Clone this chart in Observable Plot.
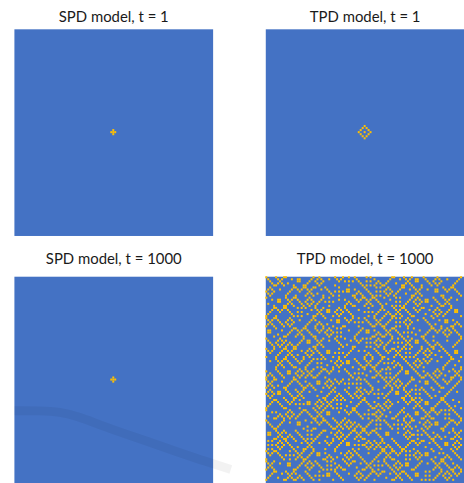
<!DOCTYPE html>
<html>
<head>
<meta charset="utf-8">
<script src="https://cdn.jsdelivr.net/npm/d3@7"></script>
<script src="https://cdn.jsdelivr.net/npm/@observablehq/plot@0.6"></script>
<style>
html, body { margin: 0; padding: 0; background: #fff; overflow: hidden; }
</style>
</head>
<body>
<div id="chart"></div>
<script>
// ---- data ----
const gridSize = 101;
const models = ["SPD", "TPD"];
const times = [1, 1000];
const panelTitles = ["SPD model, t = 1", "TPD model, t = 1", "SPD model, t = 1000", "TPD model, t = 1000"];

// occupied cells (column, row) of each lattice
const spdT1Cells = [[50, 49], [49, 50], [50, 50], [51, 50], [50, 51]];
const tpdT1Cells = [[50, 47], [49, 48], [51, 48], [48, 49], [52, 49], [47, 50], [50, 50], [53, 50],
                    [48, 51], [52, 51], [49, 52], [51, 52], [50, 53]];
const spdT1000Cells = [[50, 49], [49, 50], [50, 50], [51, 50], [50, 51]];
// TPD lattice at t = 1000, one string per row ("o" = occupied); spaces are only for readability
const tpdT1000Rows = [
"o.... o...o o.... ..... ....o ..o.. ..... o...o ..o.. o.... .o.o. ..... ....o o.... o...o ..... o.... ..o.. ..... ....o",
".o... .o.o. ...o. .oo.. ...o. .o.o. ..o.. .o.o. ..... .o... ..... o.... ...o. ...o. .o.o. .oo.. .o... .o.o. ..o.. ...o.",
"..o.. ..o.. ..... .oo.. ..o.. o...o ..... ..o.. o.o.o ..o.. .o.o. ..o.. ..o.. ..... ..o.. .oo.. ..o.. o...o ..... ..o..",
"...o. .o.o. .o... ..... .o... .o.o. ..... ..... ..... ...o. ..... .o.o. .o... .o... .o.o. ..... ...o. .o.o. ..... .o...",
"....o o...o ....o ....o o.... ..o.. ..... o.... ..o.. ....o .o.o. o...o o.... ....o o...o ....o ....o ..o.. ..... o....",
"..o.. ..... ....o o...o o...o o.... o.... ..o.. ..... ..... o.... .o.o. ..o.. ....o o.... o...o ..... ..... o...o o....",
".o.o. ..o.. ...o. .o.o. .o.o. ...o. .o... ..... .oo.. o.... .o... ..... .o.o. ...o. ...o. .o.o. ..o.. .oo.. .o.o. .o...",
"o...o ..... ..o.. ..o.. ..o.. ..... ..o.. o.o.o .oo.. ..o.. ..o.. .o.o. o...o ..o.. ..... ..o.. ..... .oo.. ..o.. ..o..",
".o.o. ..... .o... ..... .o.o. .o... ...o. ..... ..... .o.o. ...o. ..... .o.o. .o... .o... .o.o. ..... ..... ..... ...o.",
"..o.. ..... o.... o.... o...o ....o ....o ..o.. ....o o...o ....o .o.o. ..o.. o.... ....o o...o ..... ....o o.... ....o",
"o.... ..... o...o o.... ..o.. ....o ..o.. ..... ..... o...o o...o o.... o.... .o.o. ....o ..o.. ..... o.... o...o .....",
"...o. .oo.. .o.o. .o... .o.o. ...o. ..... ..o.. o.... .o.o. .o.o. .o... ...o. ..... ...o. .o.o. .oo.. .o... .o.o. ..o..",
"..... .oo.. ..o.. ..o.. o...o ..o.. o.o.o ..... ..o.. ..o.. ..o.. ..o.. ..... .o.o. ..o.. o...o .oo.. ..o.. ..o.. .....",
".o... ..... .o.o. ...o. .o.o. .o... ..... ..... .o.o. ..... .o.o. ...o. .o... ..... .o... .o.o. ..... ...o. .o.o. .....",
"....o ....o o...o ....o ..o.. o.... ..o.. ..... o...o o.... o...o ....o ....o .o.o. o.... ..o.. ....o ....o o...o .....",
"....o o...o o.... .o.o. o.... o...o ..... ..o.. o.... ..... ..o.. ....o ..... o...o o.... o...o o.... ..o.. ....o .....",
"...o. .o.o. .o... ..... ...o. .o.o. .oo.. .o.o. .o... ..o.. ..... ...o. o.... .o.o. .o... .o.o. ...o. .o.o. ...o. .oo..",
"..o.. ..o.. ..o.. .o.o. ..... ..o.. .oo.. o...o ..o.. ..... o.o.o ..o.. ..o.. ..o.. ..o.. ..o.. ..... o...o ..o.. .oo..",
".o... ..... ...o. ..... .o... .o.o. ..... .o.o. ...o. ..... ..... .o... .o.o. .o.o. ...o. ..... .o... .o.o. .o... .....",
"o.... o.... ....o .o.o. ....o o...o ....o ..o.. ....o ..... ..o.. o.... o...o o...o ....o o.... ....o ..o.. o.... ....o",
"o...o o.... ..o.. ..... ....o ..... o.... ..... o...o ..o.. o.... o...o ....o .o.o. ..o.. ..... o.... o.... ..... .....",
".o.o. .o... .o.o. ..o.. ...o. o.... ...o. .oo.. .o.o. ..... .o... .o.o. ...o. ..... .o.o. ..o.. .o... ...o. .oo.. o....",
"..o.. ..o.. o...o ..... ..o.. ..o.. ..... .oo.. ..o.. o.o.o ..o.. ..o.. ..o.. .o.o. o...o ..... ..o.. ..... .oo.. ..o..",
".o.o. ...o. .o.o. ..... .o... .o.o. .o... ..... ..... ..... ...o. .o.o. .o... ..... .o.o. ..... ...o. .o... ..... .o.o.",
"o...o ....o ..o.. ..... o.... o...o ....o ....o o.... ..o.. ....o o...o o.... .o.o. ..o.. ..... ....o ....o ....o o...o",
"..... o.... ....o o...o o.... o...o ..o.. .o.o. ..... ....o ..... ..... o...o o.... ..o.. o.... ....o o...o ..o.. o....",
".oo.. ...o. ...o. .o.o. .o... .o.o. .o.o. ..... ..o.. ...o. .oo.. o.... .o.o. .o... ..... ...o. ...o. .o.o. .o.o. .o...",
".oo.. ..... ..o.. ..o.. ..o.. ..o.. o...o .o.o. ..... ..o.. .oo.. ..o.. ..o.. ..o.. o.o.o ..... ..o.. ..o.. o...o ..o..",
"..... .o... .o... .o.o. ...o. ..... .o.o. ..... ..... .o... ..... .o.o. .o.o. ...o. ..... .o... .o... ..... .o.o. ...o.",
"....o ....o o.... o...o ....o o.... ..o.. .o.o. ..... o.... ....o o...o o...o ....o ..o.. ....o o.... o.... ..o.. ....o",
"o.... ..o.. ..... ....o ..... o...o ..... o.... o.... o...o .o.o. ..o.. ....o ..o.. o...o ..... o.... ..... ..... ....o",
".o... .o.o. o.... ...o. .oo.. .o.o. ..o.. .o... ...o. .o.o. ..... .o.o. ...o. ..... .o.o. .oo.. .o... o.... ..o.. ...o.",
"..o.. o...o ..o.. ..o.. .oo.. ..o.. ..... ..o.. ..... ..o.. .o.o. o...o ..o.. o.o.o ..o.. .oo.. ..o.. ..o.. ..... ..o..",
"...o. .o.o. .o.o. .o... ..... .o.o. ..... ...o. .o... ..... ..... .o.o. .o... ..... .o.o. ..... ...o. .o.o. ..... .o...",
"....o ..o.. o...o o.... ....o o...o ..... ....o ....o o.... .o.o. ..o.. o.... ..o.. o...o ....o ....o o...o ..... o....",
"o...o ....o o...o o.... ..o.. o.... ..... ..o.. ....o ..... ..... o.... o...o o...o .o.o. ....o ..o.. o.... o.... .....",
".o.o. ...o. .o.o. ...o. .o.o. .o... .oo.. ..... ...o. ..o.. o.... .o... .o.o. .o.o. ..... ...o. .o.o. ...o. .o... .oo..",
"..o.. ..o.. ..o.. ..... o...o ..o.. .oo.. o.o.o ..o.. ..... ..o.. ..o.. ..o.. ..o.. .o.o. ..o.. o...o ..... ..o.. .oo..",
"..... .o... .o.o. .o... .o.o. ...o. ..... ..... .o... ..... .o.o. ...o. ..... .o.o. ..... .o... .o.o. .o... ...o. .....",
"o.... o.... o...o ....o ..o.. ....o ....o ..o.. o.... ..... o...o ....o o.... o...o .o.o. o.... ..o.. ....o ....o ....o",
"..... o...o o.... o...o ....o .o.o. o.... ..o.. ..... o.... o...o ....o ..o.. ..... o.... ..o.. o...o ..... ....o o....",
"..o.. .o.o. .o... .o.o. ...o. ..... ...o. .o.o. .oo.. .o... .o.o. ...o. ..... o.... .o... .o.o. .o.o. ..o.. ...o. ...o.",
"..... ..o.. ..o.. ..o.. ..o.. .o.o. ..... o...o .oo.. ..o.. ..o.. ..o.. o.o.o ..o.. ..o.. o...o ..o.. ..... ..o.. .....",
"..... .o.o. ...o. ..... .o... ..... .o... .o.o. ..... ...o. .o.o. .o... ..... .o.o. ...o. .o.o. ..... ..... .o... .o...",
"..... o...o ....o o.... o.... .o.o. ....o ..o.. ....o ....o o...o o.... ..o.. o...o ....o ..o.. o.... ..... o.... ....o",
"..... o.... ..... ..o.. o...o ....o o...o ..... o.... ..o.. o.... o...o .o.o. ....o ..... o.... ..... ..o.. o.... o...o",
"o.... .o... .oo.. .o.o. .o.o. ...o. .o.o. ..o.. .o... ..... ...o. .o.o. ..... ...o. .oo.. .o... o.... .o.o. ...o. .o.o.",
"..o.. ..o.. .oo.. o...o ..o.. ..o.. ..o.. ..... ..o.. o.o.o ..... ..o.. .o.o. ..o.. .oo.. ..o.. ..o.. o...o ..... ..o..",
".o.o. ...o. ..... .o.o. .o.o. .o... ..... ..... ...o. ..... .o... .o.o. ..... .o... ..... ...o. .o.o. .o.o. .o... .o.o.",
"o...o ....o ....o ..o.. o...o o.... o.... ..... ....o ..o.. ....o o...o .o.o. o.... ....o ....o o...o ..o.. ....o o...o",
"o...o o.... ....o o.... ..... ..... ..o.. o...o ..o.. .o.o. o.... ..... o...o ..o.. ....o o.... ..... o.... o...o ....o",
".o.o. ...o. ...o. .o... o.... .oo.. .o.o. .o.o. ..... ..... .o... ..o.. .o.o. .o.o. ...o. ...o. .oo.. .o... .o.o. ...o.",
"..o.. ..... ..o.. ..o.. ..o.. .oo.. o...o ..o.. o.o.o .o.o. ..o.. ..... ..o.. o...o ..o.. ..... .oo.. ..o.. ..o.. ..o..",
".o.o. .o... .o... ...o. .o.o. ..... .o.o. ..... ..... ..... ...o. ..... .o.o. .o.o. .o... .o... ..... ...o. ..... .o...",
"o...o ....o o.... ....o o...o ....o ..o.. o.... ..o.. .o.o. ....o ..... o...o ..o.. o.... ....o ....o ....o o.... o....",
"..o.. ..... o.... o...o ..... o.... ....o ..... o.... ..o.. o...o ..o.. ....o ..... o...o .o.o. o.... o.... ....o .....",
".o.o. .oo.. .o... .o.o. ..o.. ...o. ...o. o.... .o... .o.o. .o.o. ..... ...o. .oo.. .o.o. ..... .o... ...o. ...o. ..o..",
"o...o .oo.. ..o.. ..o.. ..... ..... ..o.. ..o.. ..o.. o...o ..o.. o.o.o ..o.. .oo.. ..o.. .o.o. ..o.. ..... ..o.. .....",
".o.o. ..... ...o. .o.o. ..... .o... .o... .o.o. ...o. .o.o. ..... ..... .o... ..... .o.o. ..... ...o. .o... .o... .....",
"..o.. ....o ....o o...o ..... ....o o.... o...o ....o ..o.. o.... ..o.. o.... ....o o...o .o.o. ....o ....o o.... .....",
"....o o.... o...o ..o.. ..... ..o.. o...o .o.o. o.... ....o o.... ..... ..o.. ..... o...o o...o ..... ....o o.... o....",
"...o. .o... .o.o. ..... .oo.. .o.o. .o.o. ..... ...o. ...o. .o... o.... .o.o. ..o.. .o.o. .o.o. .oo.. ...o. .o... ...o.",
"..o.. ..o.. ..o.. o.o.o .oo.. o...o ..o.. .o.o. ..... ..o.. ..o.. ..o.. o...o ..... ..o.. ..o.. .oo.. ..o.. ..o.. .....",
".o... ...o. ..... ..... ..... .o.o. .o.o. ..... .o... .o... ...o. .o.o. .o.o. ..... ..... .o.o. ..... .o... ...o. .o...",
"o.... ....o o.... ..o.. ....o ..o.. o...o .o.o. ....o o.... ....o o...o ..o.. ..... o.... o...o ....o o.... ....o ....o",
"o.... ..... ..o.. ....o o.... o...o ..... ..... o...o o.... ..o.. ..o.. o.... ....o ..... ..... o...o o...o .o.o. o....",
"...o. o.... .o.o. ...o. .o... .o.o. .oo.. ..o.. .o.o. .o... ..... .o.o. ...o. ...o. o.... .oo.. .o.o. .o.o. ..... .o...",
"..... ..o.. o...o ..o.. ..o.. ..o.. .oo.. ..... ..o.. ..o.. o.o.o o...o ..... ..o.. ..o.. .oo.. ..o.. ..o.. .o.o. ..o..",
".o... .o.o. .o.o. .o... ...o. .o.o. ..... ..... ..... ...o. ..... .o.o. .o... .o... .o.o. ..... .o.o. ..... ..... ...o.",
"....o o...o ..o.. o.... ....o o...o ....o ..... o.... ....o ..o.. ..o.. ....o o.... o...o ....o o...o o.... .o.o. ....o",
"o.... ....o ..... ..... o.... o...o o.... o...o ..o.. ..... ....o .o.o. o.... ..o.. o...o o.... ..o.. ..... ....o o...o",
".o... ...o. ..o.. .oo.. ...o. .o.o. .o... .o.o. .o.o. o.... ...o. ..... .o... ..... .o.o. ...o. .o.o. .oo.. ...o. .o.o.",
"..o.. ..o.. ..... .oo.. ..... ..o.. ..o.. ..o.. o...o ..o.. ..o.. .o.o. ..o.. o.o.o ..o.. ..... o...o .oo.. ..o.. ..o..",
"...o. .o... ..... ..... .o... ..... ...o. .o.o. .o.o. .o.o. .o... ..... ...o. ..... .o.o. .o... .o.o. ..... .o... .....",
"....o o.... ..... ....o ....o o.... ....o o...o ..o.. o...o o.... .o.o. ....o ..o.. o...o ....o ..o.. ....o o.... o....",
"..... o...o ..... o.... .o.o. ....o o.... ..o.. ....o o...o o...o o.... ..... ..... ..o.. ..o.. o.... ..... o.... o...o",
".oo.. .o.o. o.... .o... ..... ...o. ...o. .o.o. ...o. .o.o. .o.o. .o... .oo.. ..o.. .o.o. ..... .o... o.... ...o. .o.o.",
".oo.. ..o.. ..o.. ..o.. .o.o. ..o.. ..... o...o ..o.. ..o.. ..o.. ..o.. .oo.. ..... o...o o.o.o ..o.. ..o.. ..... ..o..",
"..... .o.o. .o.o. ...o. ..... .o... .o... .o.o. .o... .o.o. ..... ...o. ..... ..... .o.o. ..... ...o. .o.o. .o... .o.o.",
"....o o...o o...o ....o .o.o. o.... ....o ..o.. o.... o...o o.... ....o ....o ..... ..o.. ..o.. ....o o...o ....o o...o",
".o.o. ..o.. o.... o.... o...o ..... o...o ....o ..... ..o.. ..o.. o...o ..... o.... ....o o...o o.... o.... ..... ..o..",
"..... .o.o. .o... ...o. .o.o. ..o.. .o.o. ...o. .oo.. ..... .o.o. .o.o. o.... .o... ...o. .o.o. ...o. .o... .oo.. .o.o.",
".o.o. o...o ..o.. ..... ..o.. ..... ..o.. ..o.. .oo.. o.o.o o...o ..o.. ..o.. ..o.. ..o.. ..o.. ..... ..o.. .oo.. o...o",
"..... .o.o. ...o. .o... .o.o. ..... ..... .o... ..... ..... .o.o. .o.o. .o.o. ...o. .o... ..... .o... ...o. ..... .o.o.",
".o.o. ..o.. ....o ....o o...o ..... o.... o.... ....o ..o.. ..o.. o...o o...o ....o o.... o.... ....o ....o ....o ..o..",
"o...o o.... ..o.. o...o ....o ..... ..... o.... ..o.. o.... ..... ....o o...o o...o .o.o. ..o.. ..... o.... ..... o....",
".o.o. .o... ..... .o.o. ...o. .oo.. o.... ...o. .o.o. .o... ..o.. ...o. .o.o. .o.o. ..... .o.o. .oo.. ...o. o.... .o...",
"..o.. ..o.. o.o.o ..o.. ..o.. .oo.. ..o.. ..... o...o ..o.. ..... ..o.. ..o.. ..o.. .o.o. o...o .oo.. ..... ..o.. ..o..",
"..... ...o. ..... .o.o. .o... ..... .o.o. .o... .o.o. ...o. ..... .o... .o.o. ..... ..... .o.o. ..... .o... .o.o. ...o.",
"o.... ....o ..o.. o...o o.... ....o o...o ....o ..o.. ....o ..... o.... o...o o.... .o.o. ..o.. ....o ....o o...o ....o",
"o...o ..... ..... ....o ..o.. o.... .o.o. ..... o...o o.... o...o ..o.. o.... ..o.. ..... ....o ..... o...o o.... .....",
".o.o. ..o.. .oo.. ...o. .o.o. .o... ..... o.... .o.o. ...o. .o.o. ..... .o... .o.o. .oo.. ...o. ..o.. .o.o. .o... o....",
"..o.. ..... .oo.. ..o.. o...o ..o.. .o.o. ..o.. ..o.. ..... ..o.. o.o.o ..o.. o...o .oo.. ..o.. ..... ..o.. ..o.. ..o..",
".o.o. ..... ..... .o... .o.o. ...o. ..... .o.o. ..... .o... .o.o. ..... ...o. .o.o. ..... .o... ..... .o.o. ...o. .o.o.",
"o...o ..... ....o o.... ..o.. ....o .o.o. o...o o.... ....o o...o ..o.. ....o ..o.. ....o o.... ..... o...o ....o o...o",
"....o o.... o...o ..... o.... ..o.. ..... o.... ..... ..o.. ....o o...o o.... o...o o.... ..... .o.o. ....o ..o.. o...o",
"...o. ...o. .o.o. o.... .o... ..... .oo.. .o... ..o.. .o.o. ...o. .o.o. ...o. .o.o. .o... .oo.. ..... ...o. .o.o. .o.o.",
"..o.. ..... ..o.. ..o.. ..o.. o.o.o .oo.. ..o.. ..... o...o ..o.. ..o.. ..... ..o.. ..o.. .oo.. .o.o. ..o.. o...o ..o..",
".o... .o... .o.o. .o.o. ...o. ..... ..... ...o. ..... .o.o. .o... ..... .o... .o.o. ...o. ..... ..... .o... .o.o. .....",
"o.... ....o o...o o...o ....o ..o.. ....o ....o ..... ..o.. o.... o.... ....o o...o ....o ....o .o.o. o.... ..o.. o...."
];

// faint watermark band crossing the lower-left panel (lattice units)
const watermarkX = [0, 13, 23, 33, 43, 56, 69, 81, 94, 110];
const watermarkY = [65.5, 65.5, 66, 68.5, 72.3, 76.7, 81, 85, 89.3, 94.2];

// ---- build tables ----
const panels = [];
times.forEach((t, i) => models.forEach((m, j) => panels.push({model: m, t, title: panelTitles[i * 2 + j]})));

const cells = [];
function addCells(model, t, list) { for (const [x, y] of list) cells.push({model, t, x, y}); }
addCells("SPD", 1, spdT1Cells);
addCells("TPD", 1, tpdT1Cells);
addCells("SPD", 1000, spdT1000Cells);
tpdT1000Rows.forEach((raw, y) => {
  const row = raw.replace(/\s+/g, "");
  for (let x = 0; x < row.length; x++) if (row[x] === "o") cells.push({model: "TPD", t: 1000, x, y});
});
const watermark = watermarkX.map((x, i) => ({model: "SPD", t: 1000, x, y: watermarkY[i]}));

const chart = Plot.plot({
  width: 467,
  height: 486,
  marginLeft: 14,
  marginRight: 0,
  marginTop: 29,
  marginBottom: 0,
  style: {fontFamily: "Lato, 'Open Sans', sans-serif", background: "#fff", overflow: "visible"},
  fx: {domain: models, paddingInner: 53 / 253, paddingOuter: 0, axis: null},
  fy: {domain: times, paddingInner: 41 / 249, paddingOuter: 0, axis: null},
  x: {domain: [0, gridSize], axis: null},
  y: {domain: [0, gridSize], reverse: true, axis: null},
  marks: [
    Plot.frame({fill: "#4472C4", stroke: "none"}),
    Plot.rect(cells, {fx: "model", fy: "t", x1: "x", x2: d => d.x + 1, y1: "y", y2: d => d.y + 1, fill: "#FFC000"}),
    Plot.line(watermark, {fx: "model", fy: "t", x: "x", y: "y", curve: "basis", stroke: "#000", strokeOpacity: 0.05, strokeWidth: 9, strokeLinecap: "butt"}),
    Plot.text(panels.filter(p => p.t === 1), {fx: "model", fy: "t", text: "title", frameAnchor: "top", lineAnchor: "bottom", dy: -7, fontSize: 15, fill: "#1a1a1a"}),
    Plot.text(panels.filter(p => p.t === 1000), {fx: "model", fy: "t", text: "title", frameAnchor: "top", lineAnchor: "bottom", dy: -13, fontSize: 15, fill: "#1a1a1a"})
  ]
});
document.getElementById("chart").appendChild(chart);
</script>
</body>
</html>
